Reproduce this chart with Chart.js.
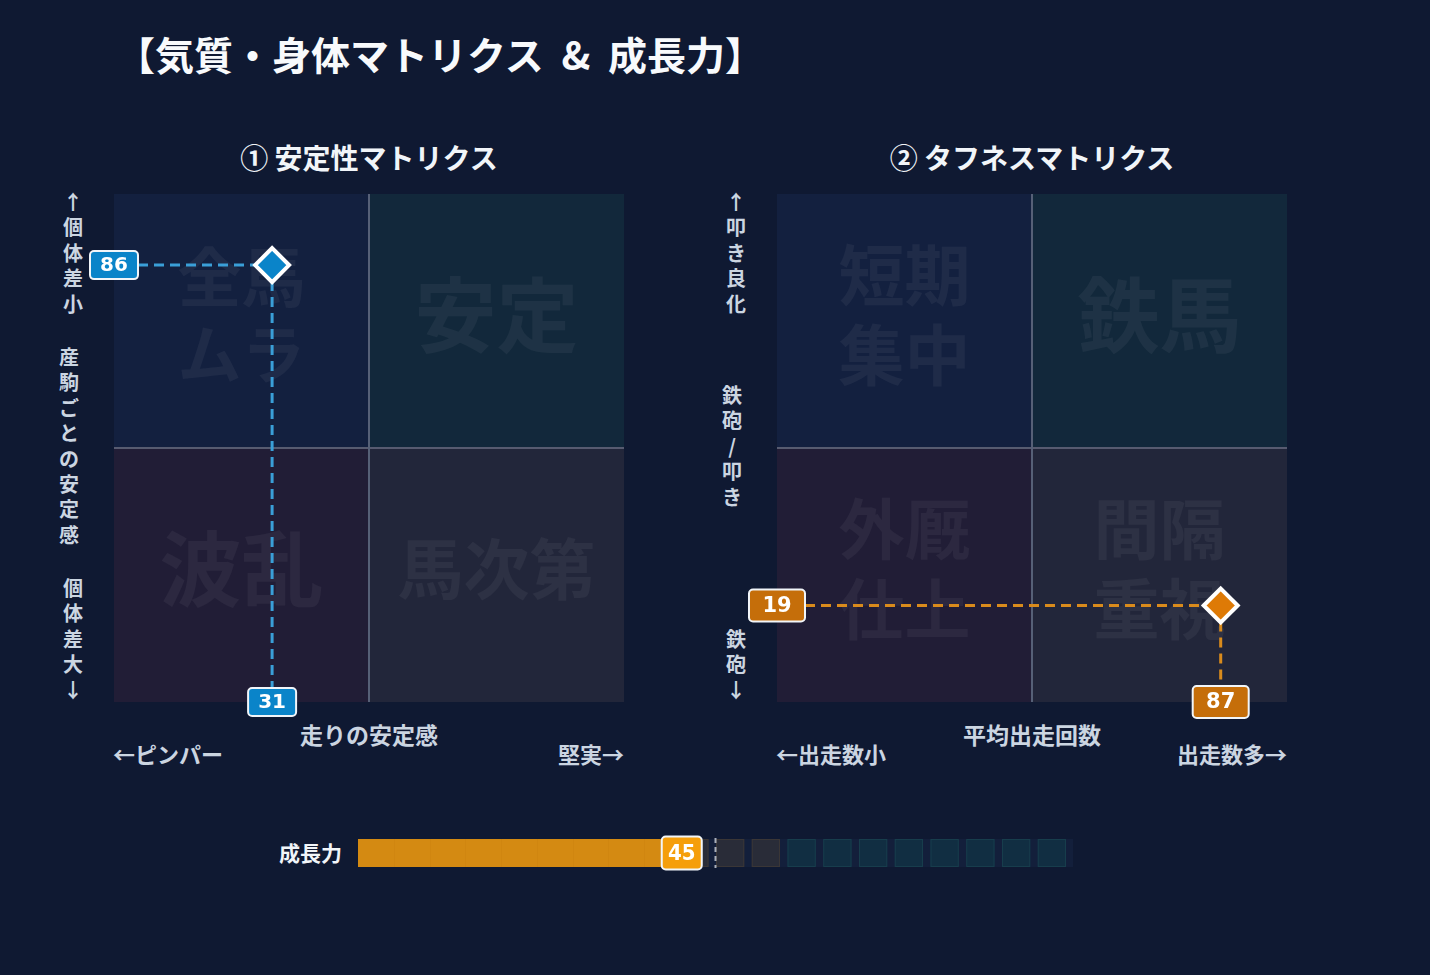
<!DOCTYPE html>
<html lang="ja">
<head>
<meta charset="utf-8">
<script src="https://cdn.jsdelivr.net/npm/chart.js@4.4.1/dist/chart.umd.min.js"></script>
<style>
html, body { margin: 0; padding: 0; background: #0f1932; width: 1430px; height: 975px; overflow: hidden;
  font-family: "Noto Sans CJK JP", "Noto Sans", sans-serif; }
.t { position: absolute; white-space: nowrap; font-weight: bold; }
.title { left: 116px; top: 26px; font-size: 39px; line-height: 54px; color: #f8fafc; }
.sub { top: 138px; width: 500px; text-align: center; font-size: 28px; line-height: 38px; color: #f1f5f9; }
.axis { font-size: 22px; line-height: 30px; color: #cbd5e1; }
.vt { position: absolute; width: 22px; text-align: center; font-size: 20px; line-height: 25.4px;
  font-weight: bold; color: #cbd5e1; word-break: break-all; line-break: anywhere; }
.wrap { position: absolute; }
</style>
</head>
<body>
<div class="t title">【気質・身体マトリクス&nbsp; &amp; &nbsp;成長力】</div>

<div class="t sub" style="left:119px">① 安定性マトリクス</div>
<div class="t sub" style="left:782px">② タフネスマトリクス</div>

<!-- 左: 縦軸ラベル -->
<div class="vt" style="left:62px;top:189px">↑個体差小</div>
<div class="vt" style="left:58px;top:344px">産駒ごとの安定感</div>
<div class="vt" style="left:62px;top:575px">個体差大↓</div>
<!-- 右: 縦軸ラベル -->
<div class="vt" style="left:725px;top:189px">↑叩き良化</div>
<div class="vt" style="left:721px;top:382px">鉄砲/叩き</div>
<div class="vt" style="left:725px;top:626px">鉄砲↓</div>

<!-- 横軸ラベル -->
<div class="t axis" style="left:219px;top:719px;width:300px;text-align:center;font-size:23px">走りの安定感</div>
<div class="t axis" style="left:113px;top:738px">←ピンパー</div>
<div class="t axis" style="left:424px;top:738px;width:200px;text-align:right">堅実→</div>
<div class="t axis" style="left:882px;top:719px;width:300px;text-align:center;font-size:23px">平均出走回数</div>
<div class="t axis" style="left:776px;top:738px">←出走数小</div>
<div class="t axis" style="left:1087px;top:738px;width:200px;text-align:right">出走数多→</div>

<div class="t axis" style="left:200px;top:837px;width:142px;text-align:right;font-size:21px;color:#f1f5f9">成長力</div>

<div class="wrap" style="left:30px;top:170px"><canvas id="stability" width="680" height="580"></canvas></div>
<div class="wrap" style="left:693px;top:170px"><canvas id="toughness" width="680" height="580"></canvas></div>
<div class="wrap" style="left:300px;top:820px"><canvas id="growth" width="800" height="70"></canvas></div>

<script>
// ===== データ =====
const stabilityX = [31];
const stabilityY = [86];
const stabilityQuadrants = ['全馬\nムラ', '安定', '波乱', '馬次第'];   // 左上, 右上, 左下, 右下

const toughnessX = [87];
const toughnessY = [19];
const toughnessQuadrants = ['短期\n集中', '鉄馬', '外厩\n仕上', '間隔\n重視'];

const growthLabels = ['成長力'];
const growthValue = [45];
const growthAverage = 50;
const growthStep = 5;
const growthZoneBounds = [45, 60, 100];

// ===== スタイル =====
const QUAD_COLORS = ['#13203f', '#12283b', '#211d36', '#22263a'];
const STABILITY_QUAD_SIZES = [64, 82, 82, 66];
const TOUGHNESS_QUAD_SIZES = [66, 82, 66, 66];
const JP_FONT = '"Noto Sans CJK JP", "Noto Sans", sans-serif';
const NUM_FONT = '"DejaVu Sans", sans-serif';

function roundRect(ctx, x, y, w, h, r) {
    ctx.beginPath();
    ctx.moveTo(x + r, y);
    ctx.arcTo(x + w, y, x + w, y + h, r);
    ctx.arcTo(x + w, y + h, x, y + h, r);
    ctx.arcTo(x, y + h, x, y, r);
    ctx.arcTo(x, y, x + w, y, r);
    ctx.closePath();
}

function drawValueBox(ctx, cx, cy, text, opt) {
    const w = opt.boxW, h = opt.boxH;
    ctx.save();
    roundRect(ctx, cx - w / 2, cy - h / 2, w, h, 4);
    ctx.fillStyle = opt.fill;
    ctx.fill();
    ctx.lineWidth = 2;
    ctx.strokeStyle = '#f1f5f9';
    ctx.stroke();
    ctx.fillStyle = '#ffffff';
    ctx.font = `bold ${opt.fontSize}px ${opt.font || NUM_FONT}`;
    ctx.textAlign = 'center';
    ctx.textBaseline = 'middle';
    ctx.fillText(text, cx, cy + 1);
    ctx.restore();
}

// 象限・ガイド線・値ラベル
const matrixPlugin = {
    id: 'matrix',
    beforeDatasetsDraw(chart) {
        const o = chart.options.plugins.matrix;
        const { ctx, chartArea: a, scales: { x, y } } = chart;
        const mx = x.getPixelForValue(50), my = y.getPixelForValue(50);
        const rects = [
            [a.left, a.top, mx - a.left, my - a.top],
            [mx, a.top, a.right - mx, my - a.top],
            [a.left, my, mx - a.left, a.bottom - my],
            [mx, my, a.right - mx, a.bottom - my]
        ];
        ctx.save();
        rects.forEach((r, i) => {
            ctx.fillStyle = QUAD_COLORS[i];
            ctx.fillRect(r[0], r[1], r[2], r[3]);
        });
        // 区切り線
        ctx.lineWidth = 2;
        ctx.strokeStyle = '#575b70';
        ctx.beginPath();
        ctx.moveTo(a.left, my); ctx.lineTo(a.right, my);
        ctx.stroke();
        ctx.strokeStyle = '#566077';
        ctx.beginPath();
        ctx.moveTo(mx, a.top); ctx.lineTo(mx, a.bottom);
        ctx.stroke();

        // 透かし文字
        ctx.fillStyle = 'rgba(255, 255, 255, 0.05)';
        ctx.textAlign = 'center';
        ctx.textBaseline = 'middle';
        rects.forEach((r, i) => {
            const lines = o.quadrants[i].split('\n');
            const size = o.quadSizes[i];
            ctx.font = `bold ${size}px ${JP_FONT}`;
            const cx = r[0] + r[2] / 2;
            const cy = r[1] + r[3] / 2 - 6;
            const lh = size * 1.2;
            lines.forEach((line, j) => {
                ctx.fillText(line, cx, cy + (j - (lines.length - 1) / 2) * lh);
            });
        });

        // ガイド線
        const meta = chart.getDatasetMeta(0);
        meta.data.forEach(pt => {
            ctx.setLineDash([10, 6]);
            ctx.lineWidth = 3;
            ctx.strokeStyle = o.guide;
            ctx.beginPath();
            ctx.moveTo(a.left + o.boxW / 2, pt.y);
            ctx.lineTo(pt.x - 16, pt.y);
            ctx.moveTo(pt.x, pt.y + 16);
            ctx.lineTo(pt.x, a.bottom - o.boxH / 2);
            ctx.stroke();
        });
        ctx.restore();
    },
    afterDatasetsDraw(chart) {
        const o = chart.options.plugins.matrix;
        const { ctx, chartArea: a } = chart;
        const ds = chart.data.datasets[0];
        chart.getDatasetMeta(0).data.forEach((pt, i) => {
            drawValueBox(ctx, a.left, pt.y, String(ds.data[i].y), o);
            drawValueBox(ctx, pt.x, a.bottom, String(ds.data[i].x), o);
        });
    }
};

function createMatrix(canvasId, xs, ys, quadrants, quadSizes, color, boxFill, guide, boxW, boxH, fontSize) {
    return new Chart(document.getElementById(canvasId), {
        type: 'scatter',
        data: {
            datasets: [{
                data: xs.map((v, i) => ({ x: v, y: ys[i] })),
                pointStyle: 'rectRot',
                pointRadius: 17,
                pointHoverRadius: 17,
                backgroundColor: color,
                borderColor: '#ffffff',
                borderWidth: 4,
                clip: false
            }]
        },
        options: {
            responsive: false,
            animation: false,
            layout: { padding: { left: 84, right: 86, top: 24, bottom: 48 } },
            scales: {
                x: { min: 0, max: 100, display: false },
                y: { min: 0, max: 100, display: false }
            },
            plugins: {
                legend: { display: false },
                tooltip: { enabled: false },
                matrix: { quadrants, quadSizes, guide, fill: boxFill, boxW, boxH, fontSize }
            }
        },
        plugins: [matrixPlugin]
    });
}

createMatrix('stability', stabilityX, stabilityY, stabilityQuadrants, STABILITY_QUAD_SIZES,
    '#0a84c9', '#0a84c9', '#3a9fd8', 48, 28, 20);
createMatrix('toughness', toughnessX, toughnessY, toughnessQuadrants, TOUGHNESS_QUAD_SIZES,
    '#de7a06', '#c56e0a', '#d98b1c', 56, 32, 21);

// ===== 成長力バー =====
const growthPlugin = {
    id: 'growthCells',
    beforeDatasetsDraw(chart) {
        const { ctx, chartArea: a, scales: { x } } = chart;
        const h = a.bottom - a.top;
        ctx.save();
        ctx.fillStyle = '#131f3b';
        ctx.fillRect(a.left, a.top, a.right - a.left, h);
        for (let v = growthZoneBounds[0]; v < growthZoneBounds[2]; v += growthStep) {
            const x0 = x.getPixelForValue(v);
            const x1 = x.getPixelForValue(v + growthStep);
            const teal = v >= growthZoneBounds[1];
            ctx.fillStyle = teal ? '#112e42' : '#292c38';
            ctx.strokeStyle = teal ? '#173d4c' : '#3a3636';
            ctx.lineWidth = 1;
            ctx.fillRect(x0 + 0.5, a.top, x1 - x0 - 7.5, h);
            ctx.strokeRect(x0 + 1, a.top + 0.5, x1 - x0 - 8.5, h - 1);
        }
        ctx.restore();
    },
    afterDatasetsDraw(chart) {
        const { ctx, chartArea: a, scales: { x } } = chart;
        const val = chart.data.datasets[0].data[0][1];
        ctx.save();
        // 塗りつぶし部分のセル区切り
        ctx.strokeStyle = 'rgba(150, 85, 0, 0.07)';
        ctx.lineWidth = 1;
        for (let v = growthStep; v < val; v += growthStep) {
            const px = Math.round(x.getPixelForValue(v)) + 0.5;
            ctx.beginPath();
            ctx.moveTo(px, a.top); ctx.lineTo(px, a.bottom);
            ctx.stroke();
        }
        // 平均ライン
        const ax = x.getPixelForValue(growthAverage);
        ctx.setLineDash([5, 4]);
        ctx.lineWidth = 2;
        ctx.strokeStyle = '#a9afbb';
        ctx.beginPath();
        ctx.moveTo(ax, a.top - 1); ctx.lineTo(ax, a.bottom + 1);
        ctx.stroke();
        ctx.restore();
        drawValueBox(ctx, x.getPixelForValue(val) + 2, (a.top + a.bottom) / 2, String(val),
            { boxW: 40, boxH: 33, fill: '#f59e0b', fontSize: 22, font: '"DejaVu Sans Condensed", "DejaVu Sans", sans-serif' });
    }
};

new Chart(document.getElementById('growth'), {
    type: 'bar',
    data: {
        labels: growthLabels,
        datasets: [{
            data: growthValue.map(v => [0, v]),
            backgroundColor: '#d48a12',
            borderWidth: 0,
            barPercentage: 1,
            categoryPercentage: 1
        }]
    },
    options: {
        indexAxis: 'y',
        responsive: false,
        animation: false,
        layout: { padding: { left: 58, right: 27, top: 19, bottom: 23 } },
        scales: {
            x: { min: 0, max: 100, display: false },
            y: { display: false }
        },
        plugins: { legend: { display: false }, tooltip: { enabled: false } }
    },
    plugins: [growthPlugin]
});
</script>
</body>
</html>
